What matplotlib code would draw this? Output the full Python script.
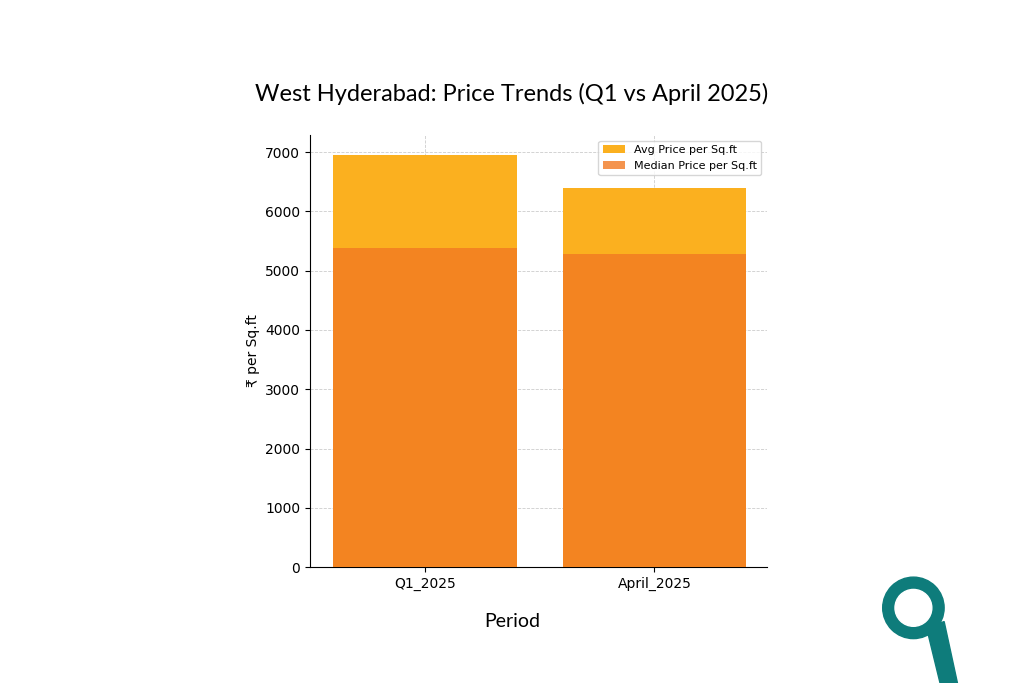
import matplotlib
matplotlib.use("Agg")
import matplotlib.pyplot as plt
from matplotlib.patches import Ellipse, Polygon

periods = ["Q1_2025", "April_2025"]
avg_price = [6950, 6400]
median_price = [5380, 5280]

fig = plt.figure(figsize=(10.24, 6.83), dpi=100)
ax = fig.add_axes([0.3027, 0.1698, 0.4463, 0.6325])
x = range(len(periods))
ax.bar(x, avg_price, width=0.8, color="#FBB01F", label="Avg Price per Sq.ft", zorder=2)
ax.bar(x, median_price, width=0.8, color="#F27A22", alpha=0.8, label="Median Price per Sq.ft", zorder=3)
ax.set_xticks(list(x))
ax.set_xticklabels(periods, fontsize=10)
ax.set_xlim(-0.5, 1.49)
ax.set_ylim(0, 7290)
ax.set_yticks(range(0, 7001, 1000))
ax.tick_params(labelsize=10)
ax.grid(True, linestyle="--", color="#cccccc", linewidth=0.6, zorder=0)
ax.set_axisbelow(True)
for s in ["top", "right"]:
    ax.spines[s].set_visible(False)
ax.set_ylabel("₹ per Sq.ft", fontsize=10)
ax.legend(loc="upper right", fontsize=8, frameon=True)
fig.text(0.5, 0.862, "West Hyderabad: Price Trends (Q1 vs April 2025)", ha="center", va="center",
         fontsize=17, family="Lato")
fig.text(0.5, 0.09, "Period", ha="center", va="center", fontsize=14, family="Lato")

# logo
teal = "#0E7C7B"
fig.patches.append(Polygon([[0.905, 0.08], [0.922, 0.09], [0.935, 0.0], [0.918, 0.0]],
                           closed=True, transform=fig.transFigure, color=teal))
fig.patches.append(Ellipse((0.892, 0.11), 0.06, 0.09, transform=fig.transFigure, color=teal))
fig.patches.append(Ellipse((0.892, 0.11), 0.036, 0.054, transform=fig.transFigure, color="white"))
fig.savefig("out.png", dpi=100)
